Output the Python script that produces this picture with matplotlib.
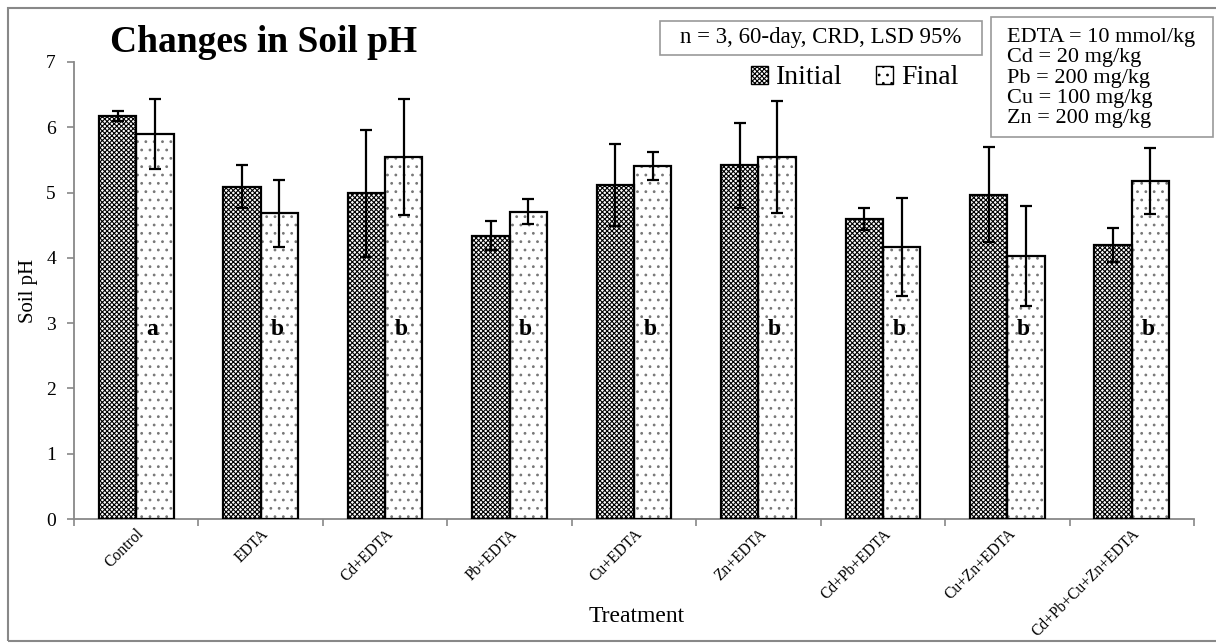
import numpy as np
import matplotlib
matplotlib.use('Agg')
import matplotlib.pyplot as plt
from matplotlib.patches import Rectangle, Patch

plt.rcParams['font.family'] = ['Liberation Serif', 'DejaVu Serif']
plt.rcParams['hatch.linewidth'] = 0.8

categories = ['Control', 'EDTA', 'Cd+EDTA', 'Pb+EDTA', 'Cu+EDTA', 'Zn+EDTA',
              'Cd+Pb+EDTA', 'Cu+Zn+EDTA', 'Cd+Pb+Cu+Zn+EDTA']
initial = [6.17, 5.09, 4.99, 4.34, 5.12, 5.42, 4.59, 4.97, 4.19]
initial_err = [0.08, 0.33, 0.97, 0.22, 0.63, 0.65, 0.17, 0.73, 0.26]
final = [5.90, 4.68, 5.54, 4.71, 5.41, 5.54, 4.17, 4.03, 5.18]
final_err = [0.54, 0.51, 0.89, 0.19, 0.21, 0.86, 0.75, 0.77, 0.51]
letters = ['a', 'b', 'b', 'b', 'b', 'b', 'b', 'b', 'b']

CHECK = 'x' * 7
DOTS = '..'

fig = plt.figure(figsize=(12.16, 6.44), dpi=100)
ax = fig.add_axes([74/1216, 1-519/644, (1194-74)/1216, (519-62)/644])

x = np.arange(len(categories))
w = 0.3
err_kw = dict(ecolor='black', elinewidth=1.6, capsize=4, capthick=1.6)
# hatch fills first, then outlines + error bars on top
ax.bar(x - w/2, initial, w, color='white', edgecolor='black', hatch=CHECK,
       linewidth=0, zorder=2)
ax.bar(x + w/2, final, w, color='white', edgecolor='#777777', hatch=DOTS,
       linewidth=0, zorder=2)
ax.bar(x - w/2, initial, w, yerr=initial_err, fill=False, edgecolor='black',
       linewidth=1.6, error_kw=err_kw, zorder=3)
ax.bar(x + w/2, final, w, yerr=final_err, fill=False, edgecolor='black',
       linewidth=1.6, error_kw=err_kw, zorder=3)

for i, s in enumerate(letters):
    ax.text(x[i] + 0.13, 2.9, s, ha='center', va='center', fontsize=17,
            fontweight='bold', zorder=4)

ax.set_xlim(-0.5, len(categories) - 0.5)
ax.set_ylim(0, 7)
ax.set_yticks(range(8))
ax.set_xticks(x)
ax.set_xticklabels(categories, rotation=45, ha='right', rotation_mode='anchor',
                   fontsize=11.2)
ax.set_xticks(np.arange(len(categories) + 1) - 0.5, minor=True)
ax.tick_params(axis='x', which='major', length=0, pad=5)
ax.tick_params(axis='x', which='minor', length=5, color='#888888', width=1.2)
ax.tick_params(axis='y', length=5, color='#888888', width=1.2, labelsize=14, pad=8)
for side in ['top', 'right']:
    ax.spines[side].set_visible(False)
for side in ['left', 'bottom']:
    ax.spines[side].set_color('#888888')
    ax.spines[side].set_linewidth(1.3)

ax.set_ylabel('Soil pH', fontsize=15, labelpad=6)
fig.text(637/1216, 1-617/644, 'Treatment', fontsize=17, ha='center', va='center')

fig.text(110/1216, 1-42/644, 'Changes in Soil pH', fontsize=27, fontweight='bold',
         ha='left', va='center')

# info boxes
fig.add_artist(Rectangle((660/1216, 1-55/644), 322/1216, 34/644, transform=fig.transFigure,
                         fc='white', ec='#999999', lw=1.2))
fig.text(821/1216, 1-38/644, 'n = 3, 60-day, CRD, LSD 95%', fontsize=16.5,
         ha='center', va='center')
fig.add_artist(Rectangle((991/1216, 1-137/644), 222/1216, 120/644, transform=fig.transFigure,
                         fc='white', ec='#999999', lw=1.2))
fig.text(1007/1216, 1-78/644,
         'EDTA = 10 mmol/kg\nCd = 20 mg/kg\nPb = 200 mg/kg\nCu = 100 mg/kg\nZn = 200 mg/kg',
         fontsize=16, ha='left', va='center', linespacing=1.1)

handles = [Patch(facecolor='white', edgecolor='black', hatch=CHECK, label='Initial'),
           Patch(facecolor='white', edgecolor='black', hatch=DOTS, label='Final')]
fig.legend(handles=handles, loc='center', bbox_to_anchor=(855/1216, 1-78/644),
           ncol=2, frameon=False, fontsize=20, handlelength=0.6, handleheight=0.6,
           handletextpad=0.3, columnspacing=1.2)

# outer frame
fig.add_artist(Rectangle((8/1216, 1-641/644), 1.1, (641-8)/644, transform=fig.transFigure,
                         fill=False, ec='#888888', lw=1.5))

fig.savefig('out.png', dpi=100)
